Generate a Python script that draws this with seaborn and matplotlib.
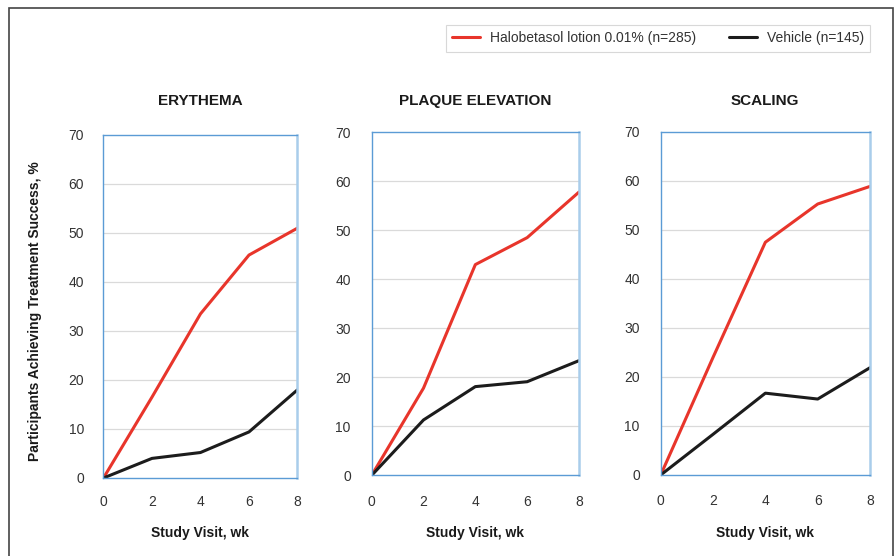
import matplotlib.pyplot as plt
import matplotlib.patches as mpatches
import numpy as np
import pandas as pd
import seaborn as sns

# data
weeks = [0, 2, 4, 6, 8]
panels = ['ERYTHEMA', 'PLAQUE ELEVATION', 'SCALING']
halo_label = 'Halobetasol lotion 0.01% (n=285)'
vehicle_label = 'Vehicle (n=145)'

erythema_halo = [0, 16.5, 33.5, 45.5, 51]
erythema_vehicle = [0, 4.0, 5.2, 9.4, 18]
plaque_halo = [0, 17.8, 43, 48.5, 57.8]
plaque_vehicle = [0, 11.3, 18.1, 19.1, 23.4]
scaling_halo = [0, 24, 47.5, 55.3, 58.9]
scaling_vehicle = [0, 8.3, 16.7, 15.5, 21.9]

halo_sets = [erythema_halo, plaque_halo, scaling_halo]
vehicle_sets = [erythema_vehicle, plaque_vehicle, scaling_vehicle]

halo_color = '#E8352B'
vehicle_color = '#1C1C1C'

sns.set_theme(style='white')
plt.rcParams['font.family'] = ['Liberation Sans', 'DejaVu Sans']

W, H = 895, 556
fig = plt.figure(figsize=(W / 100, H / 100), dpi=100)

# axes positions in figure fraction [left, bottom, width, height]
boxes = [[0.1156, 0.1403, 0.2168, 0.6169],
         [0.4153, 0.1451, 0.2316, 0.6170],
         [0.7382, 0.1457, 0.2339, 0.6169]]


def to_axes_y(px_from_top, box):
    # pixel row of the figure -> y in axes fraction
    return (1 - px_from_top / H - box[1]) / box[3]


for i in range(3):
    ax = fig.add_axes(boxes[i])
    df = pd.DataFrame({
        'week': weeks + weeks,
        'pct': halo_sets[i] + vehicle_sets[i],
        'group': [halo_label] * len(weeks) + [vehicle_label] * len(weeks),
    })
    sns.lineplot(data=df, x='week', y='pct', hue='group',
                 palette={halo_label: halo_color, vehicle_label: vehicle_color},
                 linewidth=2.2, legend=(i == 0), ax=ax)

    ax.set_xlim(0, 8)
    ax.set_ylim(0, 70)
    ax.set_xticks([0, 2, 4, 6, 8])
    ax.set_yticks(np.arange(0, 71, 10))
    for yv in range(10, 70, 10):
        ax.axhline(yv, color='#DADADA', linewidth=0.9, zorder=0)
    ax.tick_params(axis='both', length=0, labelsize=10, colors='#333333')
    ax.tick_params(axis='x', pad=12 if i == 0 else 14)
    ax.tick_params(axis='y', pad=14 if i == 0 else 15)

    for side in ['left', 'top', 'bottom']:
        ax.spines[side].set_color('#5B9BD5')
        ax.spines[side].set_linewidth(1.0)
    ax.spines['right'].set_color('#A9CDEB')
    ax.spines['right'].set_linewidth(1.8)

    # titles and x labels all sit on the same lines in the reference
    ax.set_title(panels[i], fontsize=11, fontweight='bold', color='#1a1a1a',
                 y=to_axes_y(105, boxes[i]), va='baseline', pad=0)
    ax.set_xlabel('Study Visit, wk', fontsize=10, fontweight='bold', color='#1a1a1a')
    ax.xaxis.set_label_coords(0.5, to_axes_y(526, boxes[i]))
    ax.set_ylabel('')

    if i == 0:
        handles, labels = ax.get_legend_handles_labels()
        ax.get_legend().remove()

leg = fig.legend(handles, labels, loc='upper right', bbox_to_anchor=(870 / W, 1 - 25 / H),
                 ncol=2, fontsize=10, frameon=True, fancybox=False, borderaxespad=0,
                 edgecolor='#CFCFCF', handlelength=2.0, handletextpad=0.7,
                 columnspacing=2.4, borderpad=0.45)
leg.get_frame().set_linewidth(0.8)
for t in leg.get_texts():
    t.set_color('#333333')

fig.text(0.039, 1 - 311 / H, 'Participants Achieving Treatment Success, %', rotation=90,
         ha='center', va='center', fontsize=10, fontweight='bold', color='#1a1a1a')

# outer frame around the figure
border = mpatches.Rectangle((9 / W, -0.02), 884 / W, 1.02 - 8 / H,
                            transform=fig.transFigure, fill=False,
                            edgecolor='#444444', linewidth=1.2)
fig.patches.append(border)

fig.savefig('out.png', dpi=100)
